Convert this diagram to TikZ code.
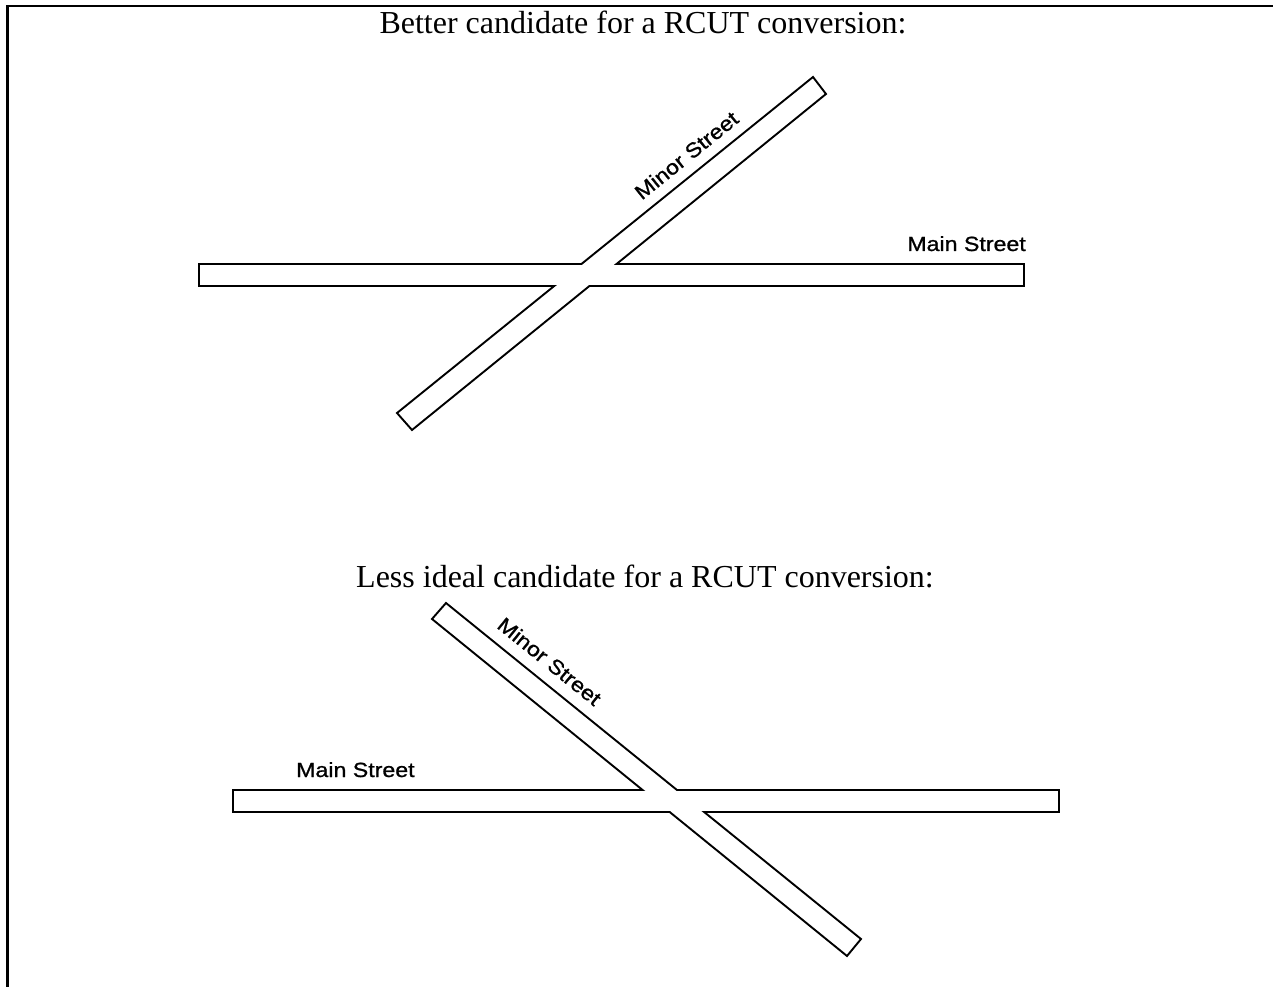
\documentclass[tikz,border=0pt]{standalone}
\usepackage{fontspec}
\setmainfont{Liberation Serif}
\newfontfamily\labelfont[FakeBold=0.9]{Liberation Sans}
\begin{document}
\begin{tikzpicture}[x=1pt,y=-1pt,
  road/.style={draw=black,line width=1.9pt,line join=miter},
  frame/.style={draw=black,line width=2.2pt},
  title/.style={anchor=base,inner sep=0pt,font=\fontsize{32}{32}\selectfont},
  streetlabel/.style={anchor=base,inner sep=0pt,font=\labelfont\fontsize{20.5}{20.5}\selectfont}]
\useasboundingbox (0,0) rectangle (1283,987);
% frame (top and left only)
\draw[frame] (7.5,987) -- (7.5,6) -- (1273,6);

% ---------- top diagram ----------
\node[title] (t1) at (643,34) {Better candidate for a RCUT conversion:};
\coordinate (mA1) at (199,264); \coordinate (mA2) at (1024,264);
\coordinate (mA3) at (1024,286); \coordinate (mA4) at (199,286);
\coordinate (sA1) at (397,413); \coordinate (sA2) at (813,77);
\coordinate (sA3) at (826,94);  \coordinate (sA4) at (412,430);
\draw[road] (mA4) -- (mA1)
  -- (intersection of mA1--mA2 and sA1--sA2) -- (sA2) -- (sA3)
  -- (intersection of mA1--mA2 and sA3--sA4) -- (mA2) -- (mA3)
  -- (intersection of mA3--mA4 and sA3--sA4) -- (sA4) -- (sA1)
  -- (intersection of mA3--mA4 and sA1--sA2) -- cycle;
\node[streetlabel,rotate=38.9] (minA) at (691,161) {\scalebox{1.13}[1]{Minor Street}};
\node[streetlabel,anchor=base east] (mainA) at (1026,251) {\scalebox{1.13}[1]{Main Street}};

% ---------- bottom diagram ----------
\node[title] (t2) at (645,587) {Less ideal candidate for a RCUT conversion:};
\coordinate (mB1) at (233,790); \coordinate (mB2) at (1059,790);
\coordinate (mB3) at (1059,812); \coordinate (mB4) at (233,812);
\coordinate (sB1) at (446,603); \coordinate (sB2) at (861,939);
\coordinate (sB3) at (847,956); \coordinate (sB4) at (432,619);
\draw[road] (mB4) -- (mB1)
  -- (intersection of mB1--mB2 and sB3--sB4) -- (sB4) -- (sB1)
  -- (intersection of mB1--mB2 and sB1--sB2) -- (mB2) -- (mB3)
  -- (intersection of mB3--mB4 and sB1--sB2) -- (sB2) -- (sB3)
  -- (intersection of mB3--mB4 and sB3--sB4) -- cycle;
\node[streetlabel,rotate=-39] (minB) at (545,667) {\scalebox{1.13}[1]{Minor Street}};
\node[streetlabel,anchor=base west] (mainB) at (296,777) {\scalebox{1.13}[1]{Main Street}};
\end{tikzpicture}
\end{document}
